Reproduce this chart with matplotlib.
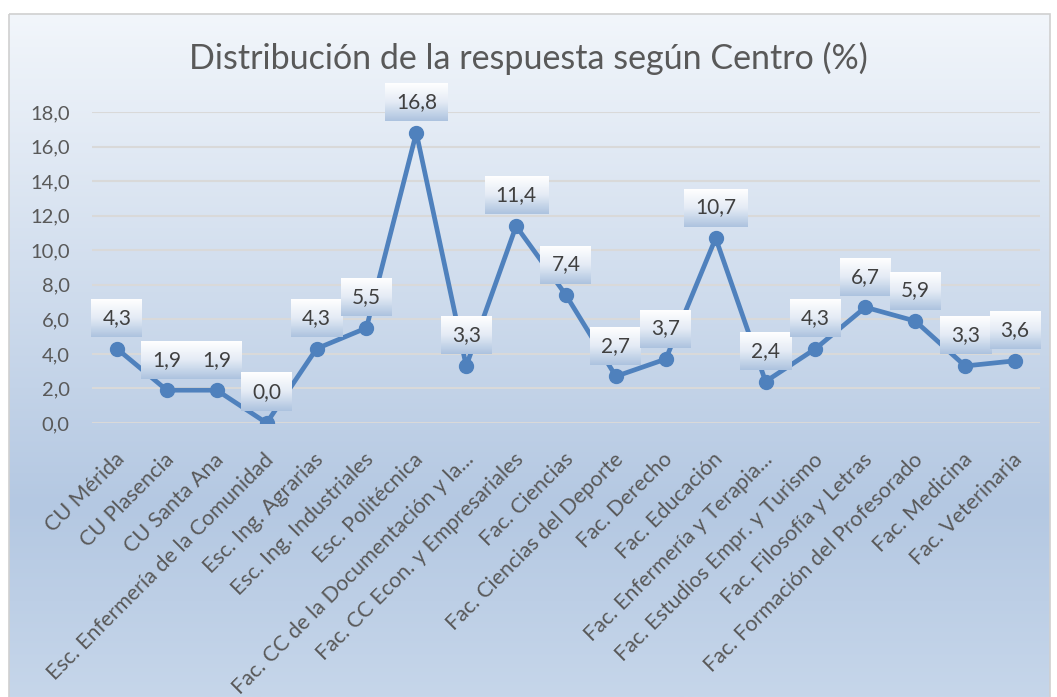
import numpy as np
import matplotlib.pyplot as plt
import matplotlib.transforms as mtransforms
from matplotlib.patches import Rectangle
from matplotlib.colors import LinearSegmentedColormap

plt.rcParams['font.family'] = ['Lato', 'DejaVu Sans']

centros = ['CU Mérida', 'CU Plasencia', 'CU Santa Ana',
           'Esc. Enfermería de la Comunidad', 'Esc. Ing. Agrarias',
           'Esc. Ing. Industriales', 'Esc. Politécnica',
           'Fac. CC de la Documentación y la...', 'Fac. CC Econ. y Empresariales',
           'Fac. Ciencias', 'Fac. Ciencias del Deporte', 'Fac. Derecho',
           'Fac. Educación', 'Fac. Enfermería y Terapia...',
           'Fac. Estudios Empr. y Turismo', 'Fac. Filosofía y Letras',
           'Fac. Formación del Profesorado', 'Fac. Medicina', 'Fac. Veterinaria']
porcentaje = [4.3, 1.9, 1.9, 0.0, 4.3, 5.5, 16.8, 3.3, 11.4, 7.4,
              2.7, 3.7, 10.7, 2.4, 4.3, 6.7, 5.9, 3.3, 3.6]
yticks = [0, 2, 4, 6, 8, 10, 12, 14, 16, 18]

azul = '#4f81bd'
gris = '#595959'

fig = plt.figure(figsize=(10.57, 6.97), dpi=100)
fig.patch.set_facecolor('white')

# fondo degradado del grafico
bg = fig.add_axes([0, 0, 1, 1], zorder=-10)
fondo = LinearSegmentedColormap.from_list(
    'fondo', [(0, '#f2f6fb'), (0.72, '#b4c8e2'), (1, '#c6d6ea')])
grad = np.linspace(0, 1, 256).reshape(-1, 1)
bg.imshow(grad, cmap=fondo, aspect='auto', extent=[9, 1050, 697, 14])
bg.add_patch(Rectangle((9, 14), 1041, 690, fill=False, ec='#d0d0d0', lw=1.2))
bg.set_xlim(0, 1057)
bg.set_ylim(697, 0)
bg.axis('off')

ax = fig.add_axes([92 / 1057, 1 - 423 / 697, 948 / 1057, 311 / 697])
ax.patch.set_alpha(0)
x = np.arange(len(centros))
ax.plot(x, porcentaje, color=azul, lw=3.4, marker='o', ms=10, zorder=3,
        solid_joinstyle='round')

ax.set_xlim(-0.5, len(centros) - 0.5)
ax.set_ylim(0, 18)
ax.set_yticks(yticks)
ax.set_yticklabels([f'{v:.1f}'.replace('.', ',') for v in yticks])
ax.yaxis.grid(True, color='#d9d9d9', lw=1.5)
ax.set_axisbelow(True)
ax.set_xticks(x)
ax.set_xticklabels(centros, rotation=45, ha='right', va='top',
                   rotation_mode='anchor', fontsize=15.5)
ax.tick_params(axis='both', length=0, colors=gris)
ax.tick_params(axis='y', labelsize=14.5, pad=16)
ax.tick_params(axis='x', pad=19)
desplaza = mtransforms.ScaledTranslation(-3 / 100, 0, fig.dpi_scale_trans)
for lab in ax.get_xticklabels():
    lab.set_transform(lab.get_transform() + desplaza)
for s in ax.spines.values():
    s.set_visible(False)

fig.text(0.5, 1 - 58 / 697, 'Distribución de la respuesta según Centro (%)',
         ha='center', va='center', fontsize=24.5, color=gris)

# etiquetas de datos con caja degradada
caja = LinearSegmentedColormap.from_list('caja', ['#ffffff', '#e4ebf5', '#adc3df'])
etiquetas = []
for xi, v in zip(x, porcentaje):
    t = ax.annotate(f'{v:.1f}'.replace('.', ','), (xi, v), xytext=(0, 22),
                    textcoords='offset points', ha='center', va='center',
                    fontsize=15, color='#404040', zorder=6)
    etiquetas.append(t)

fig.canvas.draw()
inv = ax.transData.inverted()
g = np.linspace(0, 1, 64).reshape(-1, 1)
for t in etiquetas:
    bb = t.get_window_extent()
    cx, cy = (bb.x0 + bb.x1) / 2, (bb.y0 + bb.y1) / 2
    w, h = bb.width + 22, 38
    (x0, y0), (x1, y1) = inv.transform([(cx - w / 2, cy - h / 2),
                                        (cx + w / 2, cy + h / 2)])
    ax.imshow(g, cmap=caja, aspect='auto', extent=[x0, x1, y0, y1],
              zorder=5, clip_on=False, interpolation='bilinear')
ax.set_xlim(-0.5, len(centros) - 0.5)
ax.set_ylim(0, 18)

fig.savefig('out.png', dpi=100)
